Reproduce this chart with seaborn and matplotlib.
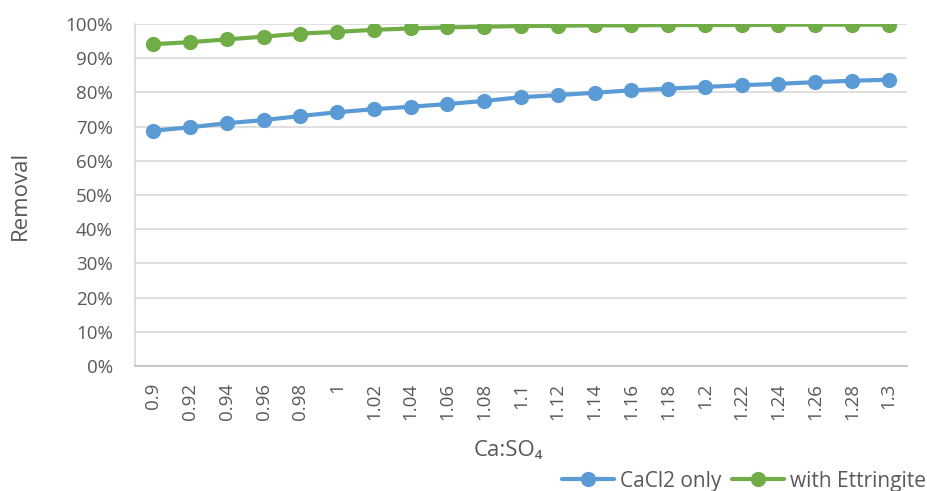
import matplotlib
matplotlib.use("Agg")
import matplotlib.pyplot as plt
from matplotlib.ticker import PercentFormatter
import seaborn as sns
import pandas as pd

ratios = ["0.9", "0.92", "0.94", "0.96", "0.98", "1", "1.02", "1.04", "1.06", "1.08",
          "1.1", "1.12", "1.14", "1.16", "1.18", "1.2", "1.22", "1.24", "1.26", "1.28", "1.3"]
cacl2_only = [68.8, 69.8, 71.0, 71.9, 73.1, 74.2, 75.1, 75.8, 76.6, 77.5,
              78.6, 79.2, 79.9, 80.6, 81.1, 81.6, 82.1, 82.5, 83.0, 83.4, 83.7]
with_ettringite = [94.1, 94.7, 95.5, 96.3, 97.2, 97.7, 98.3, 98.7, 99.0, 99.2,
                   99.4, 99.5, 99.6, 99.6, 99.7, 99.7, 99.7, 99.8, 99.8, 99.8, 99.8]
series_names = ["CaCl2 only", "with Ettringite"]
colors = ["#5B9BD5", "#70AD47"]

df = pd.DataFrame({
    "ratio": ratios * 2,
    "removal": cacl2_only + with_ettringite,
    "series": [series_names[0]] * len(ratios) + [series_names[1]] * len(ratios),
})

sns.set_theme(style="white")
plt.rcParams["font.family"] = ["Open Sans", "DejaVu Sans"]
text_color = "#595959"

fig = plt.figure(figsize=(9.28, 4.91), dpi=100)
ax = fig.add_axes([135 / 928, 1 - 366 / 491, (907 - 135) / 928, (366 - 24) / 491])

sns.lineplot(data=df, x="ratio", y="removal", hue="series", palette=colors,
             marker="o", markersize=11, markeredgewidth=0, linewidth=3,
             ax=ax, sort=False)

ax.set_xlim(-0.5, len(ratios) - 0.5)
ax.set_ylim(0, 100)
ax.set_yticks(range(0, 101, 10))
ax.yaxis.set_major_formatter(PercentFormatter(decimals=0))
ax.grid(axis="y", color="#d9d9d9", linewidth=1.2)
ax.set_axisbelow(True)
for side in ["top", "right"]:
    ax.spines[side].set_visible(False)
ax.spines["left"].set_color("#d9d9d9")
ax.spines["left"].set_linewidth(1.2)
ax.spines["bottom"].set_color("#bfbfbf")
ax.spines["bottom"].set_linewidth(1.2)
ax.tick_params(axis="both", length=0, colors=text_color, labelsize=13.5)
ax.tick_params(axis="x", rotation=90, pad=12)
ax.tick_params(axis="y", pad=16)

ax.set_xlabel("Ca:SO\u2084", color=text_color, fontsize=16)
ax.set_ylabel("Removal", color=text_color, fontsize=16)
ax.xaxis.set_label_coords(0.483, -0.215)
ax.yaxis.set_label_coords(-0.135, 0.5)

handles, labels = ax.get_legend_handles_labels()
ax.legend(handles, labels, loc="center right", bbox_to_anchor=(926 / 928, (491 - 481) / 491),
          bbox_transform=fig.transFigure, ncol=2, frameon=False,
          fontsize=15, labelcolor=text_color, handlelength=2.5,
          columnspacing=0.5, handletextpad=0.3, borderaxespad=0, borderpad=0)

fig.savefig("out.png", dpi=100)
